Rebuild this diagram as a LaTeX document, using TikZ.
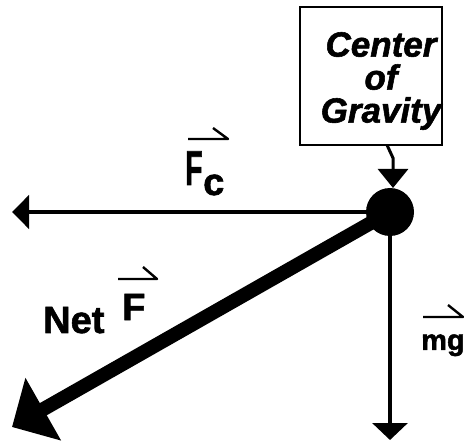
\documentclass[tikz,border=0pt]{standalone}
\usepackage{fontspec}
\setmainfont{Liberation Sans}[BoldFeatures={FakeBold=1.6},BoldItalicFeatures={FakeBold=1.6}]
\usetikzlibrary{arrows.meta}
\begin{document}
\begin{tikzpicture}[x=1pt,y=-1pt,
  cgdot/.style={circle, fill=black, inner sep=0pt, minimum size=48pt},
  cgbox/.style={rectangle, draw=black, line width=2.5pt, inner sep=0pt, minimum width=142pt, minimum height=138pt},
  boxtext/.style={inner sep=0pt, align=center, font=\bfseries\itshape\fontsize{35}{33}\selectfont},
  lbl/.style={inner sep=0pt, anchor=base west},
  vecbar/.style={line width=2.4pt, line join=round},
  fcarrow/.style={line width=4.5pt, -{Triangle[length=17pt,width=33pt]}},
  mgarrow/.style={line width=3.5pt, -{Triangle[length=17pt,width=35pt]}},
  netarrow/.style={line width=14pt, -{Triangle[length=36pt,width=70pt]}},
  ptr/.style={line width=3pt, -{Triangle[length=19pt,width=30pt]}}
]
\useasboundingbox (0,0) rectangle (464,441);
\node[cgbox] (box) at (371,76) {};
\node[boxtext] (boxtxt) at (381,81) {Center\\of\\Gravity};
\node[cgdot] (cg) at (390,212) {};
\coordinate (fcend) at (12,212);
\coordinate (netend) at (12,427);
\coordinate (mgend) at (390,440);
\coordinate (boxout) at (387,145);
\coordinate (bend) at (393,158);
\coordinate (cgtop) at (393,188);
\draw[fcarrow] (cg.center) -- (fcend);
\draw[netarrow] (cg.center) -- (netend);
\draw[mgarrow] (cg.center) -- (mgend);
\draw[ptr] (boxout) -- (bend) -- (cgtop);
% F_c label
\node[lbl, font=\bfseries\fontsize{49}{49}\selectfont] (fcF) at (185,185) {\scalebox{0.58}[1]{F}};
\node[lbl, font=\bfseries\fontsize{38}{38}\selectfont] (fcc) at (203,195) {c};
\draw[vecbar] (188,139) -- (228,139) -- (213,128);
% Net F label
\node[lbl, font=\bfseries\fontsize{38}{38}\selectfont] (net) at (43,333) {Net};
\node[lbl, font=\bfseries\fontsize{38}{38}\selectfont] (netF) at (122,320) {F};
\draw[vecbar] (118,279) -- (157,279) -- (143,267);
% mg label
\node[lbl, font=\bfseries\fontsize{29}{29}\selectfont] (mg) at (421,350) {mg};
\draw[vecbar] (423,317) -- (463,317) -- (448,305);
\end{tikzpicture}
\end{document}
